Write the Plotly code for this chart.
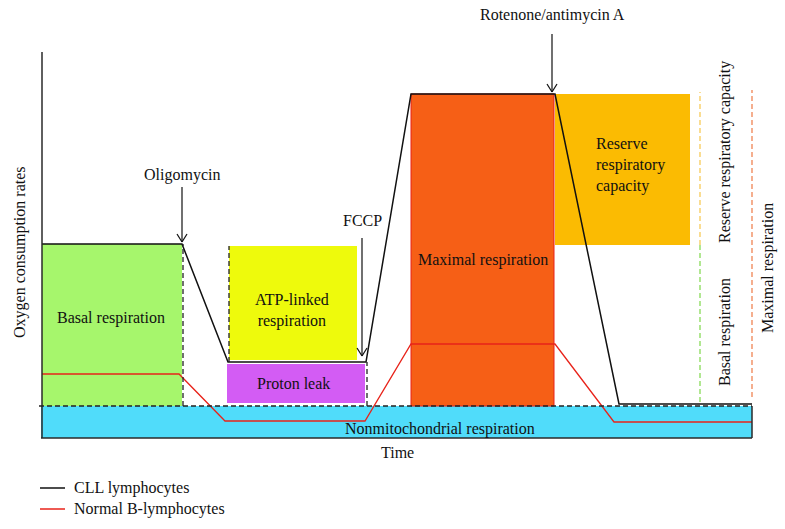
import plotly.graph_objects as go

# ---- data (arbitrary time units / arbitrary OCR units) ----
cll_time = [0, 140, 186, 324, 369, 513, 577, 710]
cll_ocr = [194, 194, 76, 76, 344, 344, 34, 34]

normal_time = [0, 137, 183, 323, 369, 513, 572, 710]
normal_ocr = [64, 64, 17, 17, 94, 94, 16, 16]

# respiration components: name, time start, time end, ocr low, ocr high, colour
region_names = ["Nonmitochondrial", "Basal", "ATP-linked", "Proton leak", "Maximal", "Reserve"]
region_t0 = [-1, 0, 187, 185, 369, 513]
region_t1 = [710, 140, 315, 323, 512, 648]
region_y0 = [0, 32, 78, 35, 32, 193]
region_y1 = [32, 194, 192, 74, 344, 344]
region_colors = ["#50DCFA", "#A6F66C", "#EEFA0C", "#D35CF4", "#F65F16", "#FBBB02"]
region_borders = [None, None, None, None, "#E8231A", None]

# injections: label, time, OCR at arrow tip, shaft length, label height
inj_labels = ["Oligomycin", "FCCP", "Rotenone/antimycin A"]
inj_time = [140, 320, 510]
inj_tip = [196, 82, 346]
inj_len = [55, 118, 58]
inj_label_ocr = [263, 218, 423]

# dashed separators: time, ocr from, ocr to
sep_time = [141, 187, 325]
sep_y0 = [32, 76, 32]
sep_y1 = [194, 192, 76]

baseline_ocr = 32
axis_top = 386

# legend entries
legend_names = ["CLL lymphocytes", "Normal B-lymphocytes"]
legend_colors = ["#111111", "#E8231A"]

FONT = "Liberation Serif, Times New Roman, serif"
FS = 16

fig = go.Figure()

shapes = []
for name, t0, t1, y0, y1, c, b in zip(region_names, region_t0, region_t1, region_y0,
                                        region_y1, region_colors, region_borders):
    shapes.append(dict(type="rect", xref="x", yref="y", x0=t0, x1=t1, y0=y0, y1=y1,
                       fillcolor=c, line=dict(width=1 if b else 0, color=b or c),
                       layer="below"))

# borders of nonmitochondrial band
t_end = region_t1[0]
for (xa, ya, xb, yb) in [(region_t0[0], 0, t_end, 0), (t_end, 0, t_end, baseline_ocr)]:
    shapes.append(dict(type="line", xref="x", yref="y", x0=xa, y0=ya, x1=xb, y1=yb,
                       line=dict(color="#2a2a2a", width=1.5)))
# y axis line
shapes.append(dict(type="line", xref="x", yref="y", x0=0, y0=0, x1=0, y1=axis_top,
                   line=dict(color="#2a2a2a", width=1.5)))
# dashed baseline
shapes.append(dict(type="line", xref="x", yref="y", x0=-3, y0=baseline_ocr, x1=t_end,
                   y1=baseline_ocr, line=dict(color="#222", width=1.3, dash="5px,3px")))
# dashed separators
for t, a, b in zip(sep_time, sep_y0, sep_y1):
    shapes.append(dict(type="line", xref="x", yref="y", x0=t, x1=t, y0=a, y1=b,
                       line=dict(color="#222", width=1.3, dash="5px,3px")))
# right-hand brackets
shapes.append(dict(type="line", xref="x", yref="y", x0=658, x1=658, y0=193, y1=346,
                   line=dict(color="#F7C64A", width=1.2, dash="5px,3px")))
shapes.append(dict(type="line", xref="x", yref="y", x0=658, x1=658, y0=36, y1=193,
                   line=dict(color="#7ED84A", width=1.2, dash="5px,3px")))
shapes.append(dict(type="line", xref="x", yref="y", x0=710, x1=710, y0=41, y1=348,
                   line=dict(color="#EE7A45", width=1.2, dash="5px,3px")))

# injection arrows (shaft + open head)
for t, tip, ln in zip(inj_time, inj_tip, inj_len):
    shapes.append(dict(type="line", xref="x", yref="y", x0=t, x1=t, y0=tip, y1=tip + ln,
                       line=dict(color="#111", width=1.2)))
    for d in (-5, 5):
        shapes.append(dict(type="line", xref="x", yref="y", x0=t, x1=t + d, y0=tip,
                           y1=tip + 8, line=dict(color="#111", width=1.2)))

fig.add_trace(go.Scatter(x=normal_time, y=normal_ocr, mode="lines", name=legend_names[1],
                         line=dict(color=legend_colors[1], width=1.3), showlegend=False))
fig.add_trace(go.Scatter(x=cll_time, y=cll_ocr, mode="lines", name=legend_names[0],
                         line=dict(color=legend_colors[0], width=1.5), showlegend=False))

ann = []
def txt(text, x, y, angle=0, align="center", xanchor="center", xref="x", yref="y"):
    ann.append(dict(text=text, x=x, y=y, xref=xref, yref=yref, showarrow=False,
                    textangle=angle, align=align, xanchor=xanchor, yanchor="middle",
                    font=dict(family=FONT, size=FS, color="#111")))

txt("Basal respiration", 69, 120)
txt("ATP-linked<br>respiration", 250, 128)
txt("Proton leak", 251, 55)
txt("Maximal respiration", 441, 178)
txt("Reserve<br>respiratory<br>capacity", 552, 273, align="left", xanchor="left")
txt("Nonmitochondrial respiration", 398, 9)
txt("Time", 355, -14)
txt("Oxygen consumption rates", -22, 186, angle=-90)
txt("Reserve respiratory capacity", 683, 286, angle=-90)
txt("Basal respiration", 683, 106, angle=-90)
txt("Maximal respiration", 726, 170, angle=-90)
for lab, t, ly in zip(inj_labels, inj_time, inj_label_ocr):
    txt(lab, t, ly)

# manual legend (paper coords)
for i, (nm, col) in enumerate(zip(legend_names, legend_colors)):
    yp = 1 - (488 + 21 * i) / 529
    shapes.append(dict(type="line", xref="paper", yref="paper", x0=40 / 785, x1=65 / 785,
                       y0=yp, y1=yp, line=dict(color=col, width=1.5)))
    txt(nm, 72 / 785, yp, align="left", xanchor="left", xref="paper", yref="paper")

fig.update_layout(
    width=785, height=529, margin=dict(l=0, r=0, t=0, b=0),
    paper_bgcolor="white", plot_bgcolor="white",
    xaxis=dict(range=[-42, 743], visible=False, fixedrange=True),
    yaxis=dict(range=[-91, 438], visible=False, fixedrange=True),
    shapes=shapes, annotations=ann,
    showlegend=False,
    font=dict(family=FONT),
)

fig.write_html("out.html", config={"displayModeBar": False},
               post_script="document.body.style.margin='0';document.body.style.overflow='hidden';")
